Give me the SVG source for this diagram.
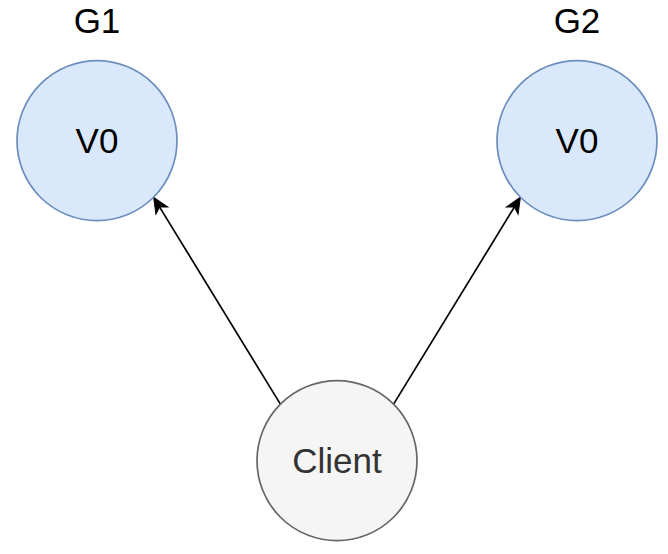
<svg xmlns="http://www.w3.org/2000/svg" width="668" height="554" viewBox="0 0 668 554">
<style>
.blue{fill:#dae8fc;stroke:#6c8ebf;stroke-width:1.7}
.grey{fill:#f5f5f5;stroke:#666666;stroke-width:1.7}
.t{font-family:"Liberation Sans",Arial,Helvetica,sans-serif;font-size:35px;text-anchor:middle;fill:#000000}
.tc{fill:#333333}
.edge{stroke:#000000;stroke-width:1.7;fill:none;marker-end:url(#arr)}
</style>
<defs>
<marker id="arr" viewBox="-17 -8 18 16" refX="-8" refY="0" markerWidth="18" markerHeight="16" markerUnits="userSpaceOnUse" orient="auto">
<path d="M0,0 L-15.5,-6.8 L-11.5,0 L-15.5,6.8 Z" fill="#000000" stroke="#000000" stroke-width="1"/>
</marker>
</defs>
<g id="connectors">
<line class="edge" x1="280.4" y1="404.1" x2="157.8" y2="204.1"/>
<line class="edge" x1="393.6" y1="404.1" x2="516.2" y2="204.1"/>
</g>
<g id="label-g1"><text class="t" x="97" y="33">G1</text></g>
<g id="label-g2"><text class="t" x="577" y="33">G2</text></g>
<g id="node-g1">
<circle class="blue" cx="97" cy="140.7" r="80"/>
<text class="t" x="97" y="152.5">V0</text>
</g>
<g id="node-g2">
<circle class="blue" cx="577" cy="140.7" r="80"/>
<text class="t" x="577" y="152.5">V0</text>
</g>
<g id="node-client">
<circle class="grey" cx="337" cy="460.7" r="80"/>
<text class="t tc" x="337" y="472.5">Client</text>
</g>
</svg>
